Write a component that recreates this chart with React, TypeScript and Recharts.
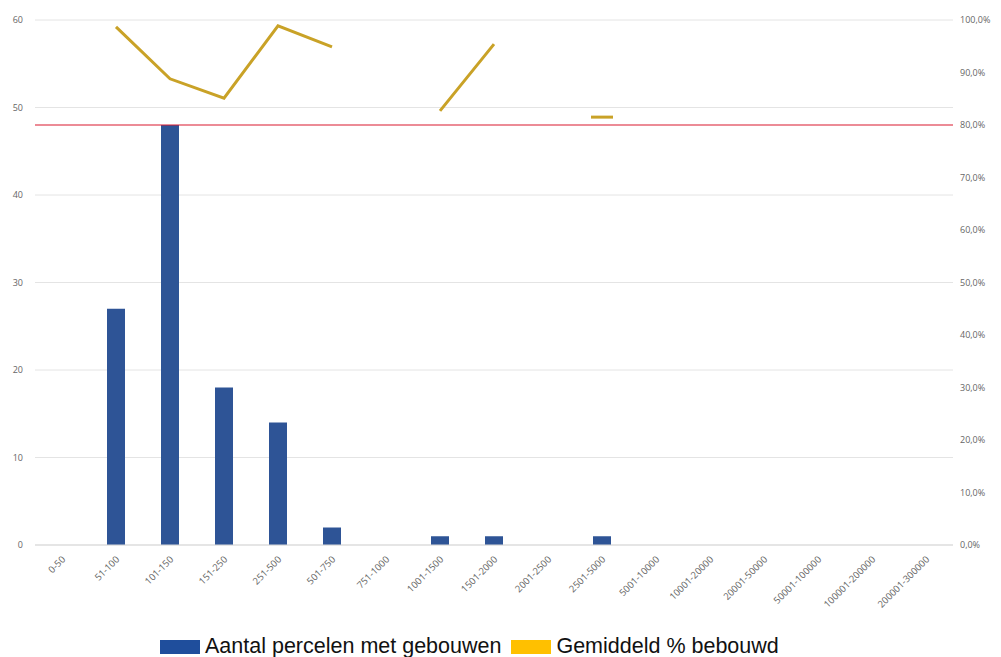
import React from 'react';
import {
  ComposedChart, Bar, Line, XAxis, YAxis, CartesianGrid, ReferenceLine, Legend,
} from 'recharts';

const categories = [
  '0-50', '51-100', '101-150', '151-250', '251-500', '501-750', '751-1000',
  '1001-1500', '1501-2000', '2001-2500', '2501-5000', '5001-10000',
  '10001-20000', '20001-50000', '50001-100000', '100001-200000', '200001-300000',
];
const aantalPercelen = [0, 27, 48, 18, 14, 2, 0, 1, 1, 0, 1, 0, 0, 0, 0, 0, 0];
const gemiddeldBebouwd: (number | null)[] = [
  null, 98.7, 88.8, 85.1, 98.9, 94.9, null, 82.7, 95.4, null, 81.5,
  null, null, null, null, null, null,
];
const leftTicks = [0, 10, 20, 30, 40, 50, 60];
const rightTicks = [0, 10, 20, 30, 40, 50, 60, 70, 80, 90, 100];
const maxLine = 48;

const BLUE = '#2E5496';
const GOLD = '#C9A227';
const AXIS_FONT = '"Open Sans", "Liberation Sans", sans-serif';

const data = categories.map((c, i) => ({
  cat: c,
  aantal: aantalPercelen[i],
  pct: gemiddeldBebouwd[i],
}));

// a point with no neighbours gets a short dash, like Excel draws it
const isIsolated = (i: number) =>
  gemiddeldBebouwd[i] != null &&
  gemiddeldBebouwd[i - 1] == null &&
  gemiddeldBebouwd[i + 1] == null;

const LineDot = (props: any) => {
  const { cx, cy, index } = props;
  if (cx == null || cy == null || !isIsolated(index)) return <g key={`d-${index}`} />;
  return (
    <line key={`d-${index}`} x1={cx - 11} x2={cx + 11} y1={cy} y2={cy} stroke={GOLD} strokeWidth={3} />
  );
};

const XTick = (props: any) => {
  const { x, y, payload } = props;
  return (
    <g transform={`translate(${x + 4},${y + 7})`}>
      <text textAnchor="end" transform="rotate(-45)" fontSize={9.5} fill="#666" fontFamily={AXIS_FONT}>
        {payload.value}
      </text>
    </g>
  );
};

const LegendContent = () => (
  <div style={{ display: 'flex', alignItems: 'center', fontFamily: '"Liberation Sans", Arial, sans-serif', fontSize: 21.5, color: '#111', paddingLeft: 160, paddingTop: 9 }}>
    <span style={{ display: 'inline-block', width: 40, height: 14, background: '#1F4E9C', marginRight: 5 }} />
    <span style={{ marginRight: 10 }}>Aantal percelen met gebouwen</span>
    <span style={{ display: 'inline-block', width: 40, height: 14, background: '#FFC000', marginRight: 5 }} />
    <span>Gemiddeld % bebouwd</span>
  </div>
);

export default function App() {
  return (
    <div style={{ position: 'absolute', left: 0, top: 0, background: '#fff' }}>
      <ComposedChart
        width={1001}
        height={657}
        data={data}
        margin={{ top: 20, right: 0, bottom: 0, left: 0 }}
      >
        <CartesianGrid yAxisId="left" vertical={false} stroke="#e4e4e4" />
        <XAxis
          dataKey="cat"
          interval={0}
          height={80}
          tick={<XTick />}
          tickLine={false}
          axisLine={{ stroke: '#d9d9d9' }}
        />
        <YAxis
          yAxisId="left"
          orientation="left"
          width={35}
          domain={[0, 60]}
          ticks={leftTicks}
          tickLine={false}
          axisLine={false}
          tickSize={0}
          tickMargin={12}
          tick={{ fontSize: 9, fill: '#666', fontFamily: AXIS_FONT }}
        />
        <YAxis
          yAxisId="right"
          orientation="right"
          width={48}
          domain={[0, 100]}
          ticks={rightTicks}
          tickLine={false}
          axisLine={false}
          tickSize={0}
          tickMargin={7}
          tickFormatter={(v: number) => `${v.toFixed(1).replace('.', ',')}%`}
          tick={{ fontSize: 9, fill: '#666', fontFamily: AXIS_FONT, textAnchor: 'start' }}
        />
        <Bar yAxisId="left" dataKey="aantal" fill={BLUE} barSize={18} isAnimationActive={false} />
        <ReferenceLine yAxisId="left" y={maxLine} stroke="#D9182E" strokeWidth={1.2} />
        <Line
          yAxisId="right"
          dataKey="pct"
          type="linear"
          stroke={GOLD}
          strokeWidth={3}
          connectNulls={false}
          dot={<LineDot />}
          activeDot={false}
          isAnimationActive={false}
        />
        <Legend verticalAlign="bottom" height={32} content={<LegendContent />} />
      </ComposedChart>
    </div>
  );
}
